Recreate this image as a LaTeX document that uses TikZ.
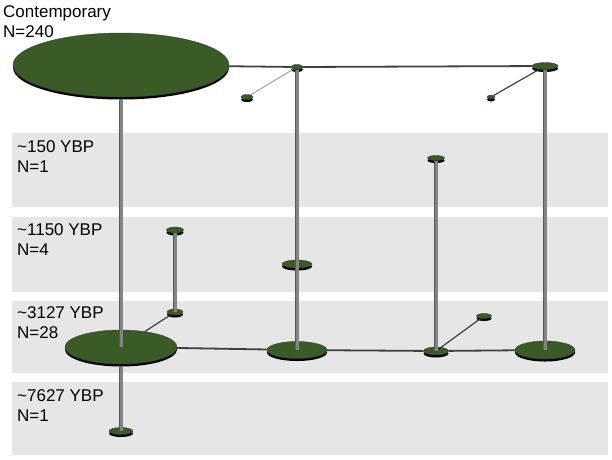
\documentclass[tikz,border=0pt]{standalone}
\usepackage{fontspec}
\setmainfont{Liberation Sans}
\usepackage{xcolor}
\usepackage{tikz}
\usetikzlibrary{calc}
\usetikzlibrary{shapes.geometric}
\usetikzlibrary{shadows}
\definecolor{hapgreen}{RGB}{58,90,38}
\definecolor{bandgray}{RGB}{230,230,230}
\definecolor{polegray}{RGB}{132,132,132}

\begin{document}
\begin{tikzpicture}[x=1pt,y=-1pt,
	hap/.style={ellipse,draw=black!75,line width=0.4pt,fill=hapgreen,inner sep=0pt,
		drop shadow={shadow xshift=0pt,shadow yshift=-2.5pt,fill=black,opacity=1}},
	band/.style={fill=bandgray,draw=none},
	era/.style={anchor=north west,inner sep=0pt,align=left,font=\fontsize{17}{20.5}\selectfont},
	pole/.style={draw=black!65,line width=0.9pt,double=polegray,double distance=3pt},
	link/.style={draw=black!75,line width=1.8pt},
	spur/.style={draw=black!80,line width=1.1pt},
	faint/.style={draw=black!40,line width=0.9pt}]
	\useasboundingbox (0,0) rectangle (612,459);
	\fill[band] (12,133) rectangle (608,207);
	\fill[band] (12,217) rectangle (608,292);
	\fill[band] (12,301) rectangle (608,373);
	\fill[band] (12,382) rectangle (608,455);
	\node[era] (tcon) at (3,5) {Contemporary\\N=240};
	\node[era] (t150) at (17,140) {\textasciitilde150 YBP\\N=1};
	\node[era] (t1150) at (17,223) {\textasciitilde1150 YBP\\N=4};
	\node[era] (t3127) at (17,306) {\textasciitilde3127 YBP\\N=28};
	\node[era] (t7627) at (17,389) {\textasciitilde7627 YBP\\N=1};
	\node[hap,minimum width=216pt,minimum height=64pt] (c1) at (121,65) {};
	\node[hap,minimum width=12pt,minimum height=5pt] (c2) at (297,67) {};
	\node[hap,minimum width=12pt,minimum height=5pt] (c3) at (247,97) {};
	\node[hap,minimum width=26pt,minimum height=7pt] (c4) at (545,66) {};
	\node[hap,minimum width=8pt,minimum height=4pt] (c5) at (491,97) {};
	\node[hap,minimum width=17pt,minimum height=5pt] (a1) at (436,158) {};
	\node[hap,minimum width=17pt,minimum height=6pt] (b1) at (175,230) {};
	\node[hap,minimum width=30pt,minimum height=8pt] (b2) at (297,264) {};
	\node[hap,minimum width=112pt,minimum height=34pt] (d1) at (121,347) {};
	\node[hap,minimum width=16pt,minimum height=6pt] (d2) at (175,312) {};
	\node[hap,minimum width=60pt,minimum height=17pt] (d3) at (297,350) {};
	\node[hap,minimum width=25pt,minimum height=8pt] (d4) at (436,351) {};
	\node[hap,minimum width=15pt,minimum height=5pt] (d5) at (484,316) {};
	\node[hap,minimum width=60pt,minimum height=18pt] (d6) at (545,350) {};
	\node[hap,minimum width=24pt,minimum height=7pt] (e1) at (121,431) {};
	\draw[link] (c1) -- (c2) -- (c4);
	\draw[faint] (c2) -- (c3);
	\draw[spur] (c4) -- (c5);
	\draw[link] (d1) -- (d3) -- (d4) -- (d6);
	\draw[spur] (d1) -- (d2);
	\draw[spur] (d4.center) -- (d5);
	\draw[pole] ([yshift=-2.5pt]c1.south) -- (d1.center);
	\draw[pole] (c2.south) -- (d3.center);
	\draw[pole] (c4.south) -- (d6.center);
	\draw[pole] (a1.south) -- (d4.center);
	\draw[pole] (b1.south) -- (d2.center);
	\draw[pole] ([yshift=-2.5pt]d1.south) -- (e1.center);
\end{tikzpicture}
\end{document}
